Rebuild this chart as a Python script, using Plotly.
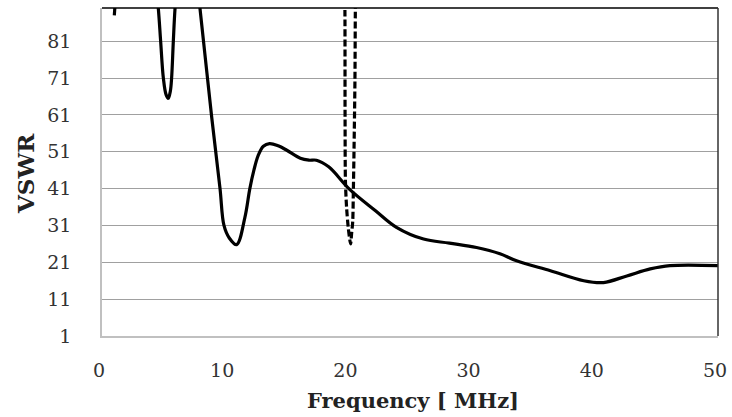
import plotly.graph_objects as go

# Solid curve (VSWR vs frequency, MHz)
freq_solid = [1.0, 1.3, 2.5, 4.0, 4.57, 4.76, 4.98, 5.2, 5.38, 5.55, 5.65, 5.79, 5.93,
              6.3, 7.0, 7.6, 7.95, 8.9, 9.58, 9.9, 10.33, 10.93, 11.6, 12.0, 12.33, 12.68, 13.1,
              13.6, 14.3, 15.0, 16.1, 16.8, 17.4, 18.4, 20.1, 22.2,
              23.9, 26.1, 28.2, 30.4, 32.3, 33.65, 36.4, 39.1, 40.7, 42.6, 44.5, 46.1, 50.0]
vswr_solid = [88.0, 100.0, 130.0, 110.0, 90.0, 81.0, 71.0, 66.5, 65.5, 67.5, 71.0, 81.0, 90.0,
              105.0, 115.0, 100.0, 90.0, 60.5, 41.0, 31.0, 27.6, 25.8, 33.2, 41.0, 46.0, 50.0, 52.5,
              53.2, 52.6, 51.4, 49.2, 48.7, 48.7, 46.9, 40.8, 35.0,
              30.5, 27.3, 26.2, 25.0, 23.3, 21.4, 18.7, 16.0, 15.5, 17.3, 19.2, 20.1, 20.1]

# Dashed curve
freq_dash = [19.7, 19.72, 19.73, 19.76, 19.85, 20.0, 20.18, 20.26, 20.35, 20.40, 20.45, 20.53, 20.56, 20.58]
vswr_dash = [95.0, 88.0, 60.0, 43.0, 36.0, 30.0, 26.0, 28.8, 32.0, 40.0, 50.0, 70.0, 88.0, 95.0]

x_ticks = [0, 10, 20, 30, 40, 50]
y_ticks = [1, 11, 21, 31, 41, 51, 61, 71, 81]

W, H = 732, 417
ML, MR, MT, MB = 102, 14, 8, 81
PW, PH = W - ML - MR, H - MT - MB

fig = go.Figure()
fig.add_trace(go.Scatter(x=freq_solid, y=vswr_solid, mode="lines",
                         line=dict(color="black", width=3.2, shape="spline", smoothing=1.0),
                         showlegend=False, hoverinfo="skip"))
fig.add_trace(go.Scatter(x=freq_dash, y=vswr_dash, mode="lines",
                         line=dict(color="black", width=3.2, shape="spline", smoothing=0.8,
                                   dash="7px,3px"),
                         showlegend=False, hoverinfo="skip"))

fig.update_layout(
    width=W, height=H,
    margin=dict(l=ML, r=MR, t=MT, b=MB, autoexpand=False),
    paper_bgcolor="white", plot_bgcolor="white",
    font=dict(family="DejaVu Serif", color="#222"),
    xaxis=dict(range=[0, 50], tickvals=x_ticks, ticktext=[str(v) for v in x_ticks],
               showgrid=False, zeroline=False, showline=True, linecolor="#c0c0c0", linewidth=1.5,
               ticks="", automargin=False, ticklabelstandoff=16, ticklabelshift=-3,
               tickfont=dict(size=19, family="DejaVu Serif", color="#333")),
    yaxis=dict(range=[1, 90], tickvals=y_ticks, ticktext=[str(v) for v in y_ticks],
               showgrid=True, gridcolor="#a0a0a0", gridwidth=1, zeroline=False,
               showline=True, linecolor="#c0c0c0", linewidth=1.5, ticks="",
               automargin=False, ticklabelstandoff=25,
               tickfont=dict(size=19, family="DejaVu Serif", color="#333")),
    shapes=[
        dict(type="line", xref="paper", yref="paper", x0=0, x1=1, y0=1, y1=1,
             line=dict(color="black", width=1.5)),
        dict(type="line", xref="paper", yref="paper", x0=1, x1=1, y0=0, y1=1,
             line=dict(color="#333", width=1.5)),
    ],
    annotations=[
        dict(text="<b>Frequency [ MHz]</b>", xref="paper", yref="paper",
             x=(413 - ML) / PW, y=-(400 - (MT + PH)) / PH, xanchor="center", yanchor="middle",
             showarrow=False, font=dict(size=21, family="DejaVu Serif", color="#222")),
        dict(text="<b>VSWR</b>", xref="paper", yref="paper", textangle=-90,
             x=-(ML - 25) / PW, y=1 - (174 - MT) / PH, xanchor="center", yanchor="middle",
             showarrow=False, font=dict(size=23, family="DejaVu Serif", color="#222")),
    ],
)

fig.write_html("out.html", config={"displayModeBar": False},
               post_script="document.body.style.margin='0';")
